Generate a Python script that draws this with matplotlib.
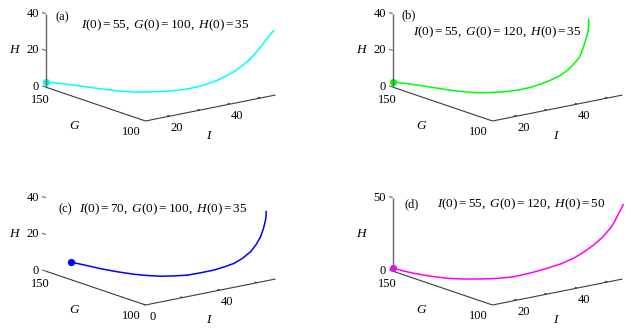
import numpy as np
import matplotlib

matplotlib.use('Agg')
import matplotlib.pyplot as plt
from matplotlib.lines import Line2D

plt.rcParams['font.family'] = ['Liberation Serif', 'DejaVu Serif']
plt.rcParams['mathtext.fontset'] = 'custom'
plt.rcParams['mathtext.rm'] = 'Liberation Serif'
plt.rcParams['mathtext.it'] = 'Liberation Serif:italic'

W, HT = 637, 334

# trajectories (I, G, H), from the initial point to the rest point (dot)
I_a = [54.4, 52.8, 51.5, 50.3, 48.7, 47.2, 44.7, 42.1, 39.7, 37.4, 35.0, 33.0, 31.1, 29.3,
       27.6, 26.0, 24.4, 23.1, 21.7, 20.4, 19.1, 18.0, 16.8, 15.8, 14.0, 12.6, 12.0, 12.0]
G_a = [100.0, 100.1, 100.2, 100.35, 100.5, 100.7, 101.0, 101.4, 101.9, 102.5, 103.3, 104.3,
       105.5, 107.0, 108.6, 110.3, 112.2, 114.2, 116.3, 118.5, 120.8, 123.2, 125.7, 128.3,
       134.0, 140.0, 145.0, 150.0]
H_a = [35.3, 32.6, 30.0, 27.5, 24.7, 22.1, 19.0, 16.3, 14.5, 12.9, 11.7, 10.5, 9.7, 8.9,
       8.3, 7.9, 7.4, 7.0, 6.6, 6.2, 6.1, 5.9, 5.9, 5.8, 5.6, 5.0, 4.1, 2.9]

I_b = [55.0, 55.2, 55.1, 54.9, 54.3, 53.6, 52.7, 51.1, 49.3, 46.9, 44.1, 40.9, 37.7, 33.7,
       29.9, 26.6, 23.7, 21.5, 19.7, 17.7, 15.7, 14.2, 12.0]
G_b = [117.0, 117.1, 117.2, 117.3, 117.5, 117.7, 118.0, 118.4, 118.9, 119.2, 119.5, 119.7,
       119.9, 120.3, 121.0, 122.8, 125.2, 128.6, 132.7, 137.8, 143.1, 146.8, 150.0]
H_b = [35.0, 32.8, 30.5, 27.2, 23.5, 19.3, 14.8, 11.5, 8.4, 6.1, 4.5, 3.3, 2.5, 2.2,
       2.3, 2.3, 2.2, 2.2, 2.2, 2.3, 2.4, 2.5, 2.8]

I_c = [70.0, 70.0, 69.8, 69.0, 67.9, 66.2, 64.1, 61.1, 57.7, 53.8, 49.8, 43.8, 38.1, 33.3,
       29.1, 25.5, 22.4, 19.4, 16.6, 14.8, 12.8]
G_c = [104.7, 104.7, 104.8, 105.1, 105.5, 106.2, 107.0, 108.2, 109.4, 110.7, 112.1, 113.2,
       114.5, 116.8, 119.5, 122.8, 126.6, 132.2, 138.0, 143.7, 149.4]
H_c = [35.0, 32.8, 30.5, 25.8, 21.5, 17.2, 13.5, 10.1, 7.5, 5.9, 4.5, 3.8, 3.2, 2.9,
       2.6, 2.5, 2.4, 2.3, 2.4, 2.5, 2.6]

I_d = [55.2, 54.4, 53.5, 52.7, 51.7, 49.7, 47.5, 44.9, 42.3, 39.3, 36.4, 32.4, 28.4, 25.0,
       21.9, 18.8, 16.1, 14.0, 12.4, 12.0, 12.0]
G_d = [100.0, 100.2, 100.4, 100.7, 101.0, 102.0, 103.0, 104.0, 105.2, 107.2, 109.6, 111.8,
       114.1, 117.3, 120.9, 124.7, 128.8, 134.0, 139.9, 144.5, 150.0]
H_d = [50.5, 46.7, 43.1, 39.2, 35.6, 29.7, 25.0, 20.7, 17.0, 13.4, 10.5, 8.0, 6.0, 4.8,
       4.0, 3.5, 3.2, 3.1, 3.0, 2.6, 2.2]

titles = [r'$I(0)=55,\ G(0)=100,\ H(0)=35$',
          r'$I(0)=55,\ G(0)=120,\ H(0)=35$',
          r'$I(0)=70,\ G(0)=100,\ H(0)=35$',
          r'$I(0)=55,\ G(0)=120,\ H(0)=50$']
letters = ['(a)', '(b)', '(c)', '(d)']
colors = ['#00ffff', '#00ff00', '#0000ff', '#ff00ff']

G_LIM = (100, 150)
I_TICKS = [20, 30, 40, 50]
I_LABELS = ['20', '', '40', '']
I_TICKS_C = [0, 20, 40, 60]
I_LABELS_C = ['0', '', '40', '']
H_TICKS = [0, 20, 40]
H_TICKS_D = [0, 50]

BOX = (1, 1, 0.464)
DARK = '#3c3c3c'
GREY = '#666666'

fig = plt.figure(figsize=(W / 100, HT / 100), dpi=100)


def to_px(ax, x, y, z):
    v = ax.get_proj() @ np.array([x, y, z, 1.0])
    dx, dy = ax.transData.transform((v[0] / v[3], v[1] / v[3]))
    return dx, HT - dy


def put(x, y, s, **kw):
    fig.text(x / W, 1 - y / HT, s, **kw)


def make_panel(col, I, G, H, color, ilim, hlim, iticks, hticks):
    ax = fig.add_axes([col * 0.5, 0, 0.5, 1], projection='3d', proj_type='ortho')
    ax.view_init(elev=15.1, azim=-127.5)
    ax.set_axis_off()
    ax.set_facecolor('none')
    ax.computed_zorder = False
    i0, i1 = ilim
    h0, h1 = hlim
    kw = dict(clip_on=False, lw=0.8, solid_capstyle='butt')
    ax.plot([i0, i1], [100, 100], [h0, h0], color=DARK, **kw)
    ax.plot([i0, i0], [100, 150], [h0, h0], color=DARK, **kw)
    for t in iticks:
        ax.plot([t, t], [100, 101.2], [h0, h0], color=DARK, **kw)
    for t in hticks:
        ax.plot([i0, i0], [150, 151.8], [t, t], color=GREY, **kw)
    ax.plot(I, G, H, color=color, lw=1.1, clip_on=False)
    ax.plot([I[-1]], [G[-1]], [H[-1]], 'o', ms=4.2, color=color, clip_on=False)
    ax.set_xlim(ilim)
    ax.set_ylim(G_LIM)
    ax.set_zlim(hlim)
    ax.set_box_aspect(BOX)
    return ax


def place(ax, corner, span):
    i0, i1 = ax.get_xlim()
    z0 = ax.get_zlim()[0]
    fig.canvas.draw()
    x0, _ = to_px(ax, i0, 100, z0)
    x1, _ = to_px(ax, i1, 100, z0)
    ax.set_box_aspect(BOX, zoom=span / (x1 - x0))
    fig.canvas.draw()
    x0, y0 = to_px(ax, i0, 100, z0)
    pos = ax.get_position()
    ax.set_position([pos.x0 + (corner[0] - x0) / W, pos.y0 + (y0 - corner[1]) / HT,
                     pos.width, pos.height])


def label_panel(ax, iticks, ilabels, hticks, letter_xy, letter, title_xy, title, h_line=True):
    fig.canvas.draw()
    i0, i1 = ax.get_xlim()
    h0, h1 = ax.get_zlim()
    fs = 9
    if h_line:
        xa, ya = to_px(ax, i0, 150, h0)
        xb, yb = to_px(ax, i0, 150, h1)
        fig.add_artist(Line2D([xa / W, xb / W], [1 - ya / HT, 1 - yb / HT],
                              color=GREY, lw=1.0, solid_capstyle='butt', zorder=1.5))
    for t, s in zip(iticks, ilabels):
        x, y = to_px(ax, t, 100, h0)
        put(x + 7, y + 12, s, ha='center', va='center', fontsize=fs)
    x, y = to_px(ax, (i0 + i1) / 2, 100, h0)
    put(x - 2, y + 28, 'I', ha='center', va='center', fontsize=fs + 0.5, style='italic')
    x, y = to_px(ax, i0, 150, h0)
    put(x - 5, y + 13, '150', ha='center', va='center', fontsize=fs)
    x, y = to_px(ax, i0, 100, h0)
    put(x - 14, y + 11, '100', ha='center', va='center', fontsize=fs)
    x, y = to_px(ax, i0, 125, h0)
    put(x - 22, y + 22, 'G', ha='center', va='center', fontsize=fs + 0.5, style='italic')
    for t in hticks:
        x, y = to_px(ax, i0, 150, t)
        put(x - 6.5, y, str(t), ha='right', va='center', fontsize=fs)
    x, y = to_px(ax, i0, 150, (h0 + h1) / 2)
    put(x - 32, y, 'H', ha='center', va='center', fontsize=fs + 0.5, style='italic')
    put(letter_xy[0], letter_xy[1], letter, ha='center', va='center', fontsize=fs)
    put(title_xy[0], title_xy[1], title, ha='center', va='center', fontsize=9.5)


ax_a = make_panel(0, I_a, G_a, H_a, colors[0], (12, 55), (0, 40), I_TICKS, H_TICKS)
ax_b = make_panel(1, I_b, G_b, H_b, colors[1], (12, 55), (0, 40), I_TICKS, H_TICKS)
ax_c = make_panel(0, I_c, G_c, H_c, colors[2], (0, 70), (0, 40), I_TICKS_C, H_TICKS)
ax_d = make_panel(1, I_d, G_d, H_d, colors[3], (12, 55), (0, 50), I_TICKS, H_TICKS_D)

# the half pixel keeps the vertical H axis on one pixel column
place(ax_a, (145.5, 121), 130)
place(ax_b, (492.5, 121), 130)
place(ax_c, (145.5, 305), 130)
place(ax_d, (492.5, 305), 130)

label_panel(ax_a, I_TICKS, I_LABELS, H_TICKS, (62, 17), letters[0], (165, 25), titles[0])
label_panel(ax_b, I_TICKS, I_LABELS, H_TICKS, (409, 15), letters[1], (497, 32), titles[1])
label_panel(ax_c, I_TICKS_C, I_LABELS_C, H_TICKS, (65, 209), letters[2], (163, 209), titles[2],
            h_line=False)
label_panel(ax_d, I_TICKS, I_LABELS, H_TICKS_D, (412, 204), letters[3], (521, 204), titles[3])

fig.savefig('out.png', dpi=100)
